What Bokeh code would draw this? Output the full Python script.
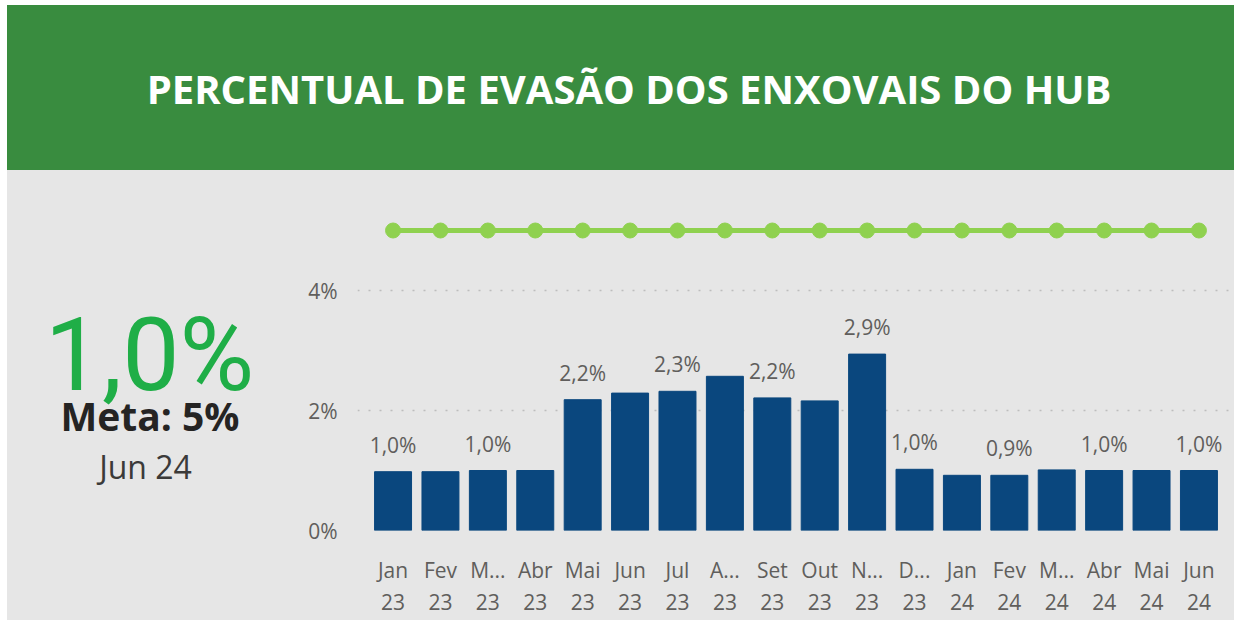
from bokeh.plotting import figure
from bokeh.layouts import column, row
from bokeh.models import (FactorRange, Range1d, ColumnDataSource, LabelSet,
                          FixedTicker, PrintfTickFormatter, Spacer)
from bokeh.core.properties import value
from bokeh.embed import file_html
from bokeh.resources import INLINE

# ---------------- data ----------------
month_labels = ["Jan", "Fev", "M...", "Abr", "Mai", "Jun", "Jul", "A...", "Set",
                "Out", "N...", "D...", "Jan", "Fev", "M...", "Abr", "Mai", "Jun"]
year_labels = ["23", "23", "23", "23", "23", "23", "23", "23", "23", "23", "23",
               "23", "24", "24", "24", "24", "24", "24"]
evasao = [0.98, 0.98, 1.00, 1.00, 2.18, 2.29, 2.32, 2.57, 2.21, 2.16, 2.94,
          1.02, 0.92, 0.92, 1.01, 1.00, 1.00, 1.00]
meta = [5.0, 5.0, 5.0, 5.0, 5.0, 5.0, 5.0, 5.0, 5.0, 5.0, 5.0, 5.0, 5.0, 5.0,
        5.0, 5.0, 5.0, 5.0]
label_shown = [1, 0, 1, 0, 1, 0, 1, 0, 1, 0, 1, 1, 0, 1, 0, 1, 0, 1]
y_ticks = [0, 2, 4]
title_text = "PERCENTUAL DE EVASÃO DOS ENXOVAIS DO HUB"
kpi_period = "Jun 24"

categories = [m + "\n" + y for m, y in zip(month_labels, year_labels)]

# ---------------- styles ----------------
GREEN_BANNER = "#398c3f"
BG = "#e6e6e6"
BAR = "#0a477e"
LINE_GREEN = "#8fd14f"
KPI_GREEN = "#1fae47"
TICK = "#605e5c"
FONT = "Open Sans"

def fmt(v):
    return ("%.1f%%" % v).replace(".", ",")

# ---------------- header ----------------
HW = 1227
header = figure(width=HW, height=165, x_range=Range1d(7, 7 + HW), y_range=Range1d(170, 5),
                output_backend="svg", toolbar_location=None,
                background_fill_color=GREEN_BANNER, border_fill_color=GREEN_BANNER,
                min_border=0, outline_line_color=None,
                styles={"background-color": GREEN_BANNER})
header.axis.visible = False
header.grid.visible = False
header.text(x=[628.5], y=[88], text=[title_text], text_color="white",
            text_font=value(FONT), text_font_style="bold", text_font_size="40px",
            text_align="center", text_baseline="alphabetic")

# ---------------- KPI ----------------
KW, KH = 291, 450
TOP, BOT = 45, 90
kpi = figure(width=KW, height=KH, x_range=Range1d(0, KW), y_range=Range1d(KH - BOT, TOP),
             output_backend="svg", toolbar_location=None,
             background_fill_color=None, border_fill_color=BG,
             min_border_left=0, min_border_right=0, min_border_top=TOP,
             min_border_bottom=BOT, outline_line_color=None)
kpi.axis.visible = False
kpi.grid.visible = False
kpi.text(x=[142], y=[184], text=[fmt(evasao[-1])], text_color=KPI_GREEN,
         text_font=value("Roboto"), text_font_size="102px",
         text_align="center", text_baseline="alphabetic")
kpi.text(x=[142.5], y=[245], text=["Meta: %d%%" % meta[-1]], text_color="#252423",
         text_font=value(FONT), text_font_style="bold", text_font_size="39px",
         text_align="center", text_baseline="alphabetic")
kpi.text(x=[138], y=[296], text=[kpi_period], text_color="#3b3a39",
         text_font=value(FONT), text_font_size="32px",
         text_align="center", text_baseline="alphabetic")

# ---------------- chart ----------------
CW, CH = HW - KW, KH
p = figure(width=CW, height=CH,
           x_range=FactorRange(*categories, range_padding=0.25,
                               range_padding_units="absolute"),
           y_range=Range1d(0, 5.25),
           output_backend="svg", toolbar_location=None,
           background_fill_color=None, border_fill_color=BG,
           min_border_left=59, min_border_right=0, min_border_top=TOP,
           min_border_bottom=BOT, outline_line_color=None)

src = ColumnDataSource(dict(
    x=categories, top=evasao, meta=meta,
    lab=[fmt(v) if s else "" for v, s in zip(evasao, label_shown)]))

p.vbar(x="x", top="top", width=0.78, color=BAR, source=src)
p.line(x="x", y="meta", line_color=LINE_GREEN, line_width=5, source=src)
p.scatter(x="x", y="meta", size=15, color=LINE_GREEN, source=src)

labels = LabelSet(x="x", y="top", text="lab", source=src, y_offset=19,
                  text_align="center", text_baseline="alphabetic",
                  text_font=value(FONT), text_font_size="21px", text_color=TICK)
p.add_layout(labels)

p.xgrid.grid_line_color = None
p.ygrid.grid_line_color = "#bdbdbd"
p.ygrid.grid_line_dash = "2 9"
p.ygrid.grid_line_width = 1.5
p.ygrid.ticker = FixedTicker(ticks=y_ticks)

p.yaxis.ticker = FixedTicker(ticks=y_ticks)
p.yaxis.formatter = PrintfTickFormatter(format="%d%%")
for ax in (p.xaxis[0], p.yaxis[0]):
    ax.axis_line_color = None
    ax.major_tick_line_color = None
    ax.minor_tick_line_color = None
    ax.major_tick_out = 0
    ax.major_tick_in = 0
    ax.major_label_text_font = FONT
    ax.major_label_text_font_size = "21px"
    ax.major_label_text_color = TICK
p.yaxis.major_label_standoff = 20
p.xaxis.major_label_standoff = 25
p.xaxis.major_label_text_line_height = 1.17

layout = column(Spacer(width=10, height=5),
                row(Spacer(width=7, height=165), header),
                row(Spacer(width=7, height=KH),
                    row(kpi, p, styles={"background-color": BG})))
open("out.html", "w").write(file_html(layout, INLINE))
